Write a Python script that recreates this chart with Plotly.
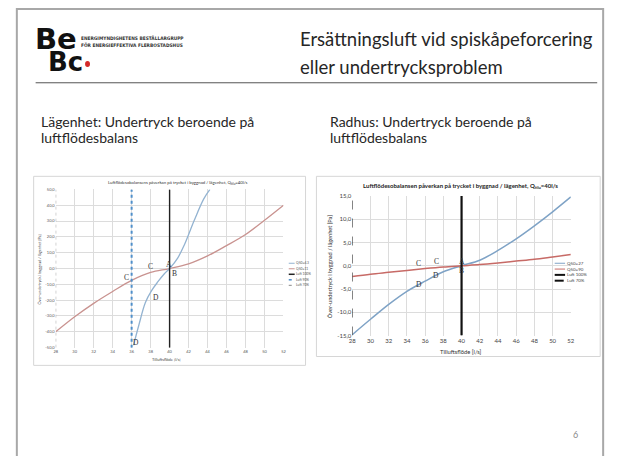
import plotly.graph_objects as go

W, H = 620, 456

# ---------------- data ----------------
# Lägenhet (left chart)
lag_x = [28, 30, 32, 34, 36, 38, 40, 42, 44, 46, 48, 50, 52]
lag_q50_11 = [-40, -30.5, -22, -14.5, -7.5, -2.5, 0, 3, 8, 14.5, 21.5, 30.5, 40]
lag_q50_43_x = [36.2, 36.75, 37.45, 38.1, 38.75, 39.45, 40, 40.85, 41.55, 42.6, 43.6, 44.25]
lag_q50_43_y = [-48.5, -36, -21.5, -14, -8.5, -3.3, 0, 6.6, 14.9, 30.5, 44, 50]
lag_luft = {"Luft 100%": 40, "Luft 90%": 36, "Luft 70%": 28}
lag_yticks = [-50, -40, -30, -20, -10, 0, 10, 20, 30, 40, 50]
lag_ytext = ["-50,0", "-40,0", "-30,0", "-20,0", "-10,0", "0,0", "10,0", "20,0", "30,0", "40,0", "50,0"]
lag_points = [("A", 39.9, 2.4), ("B", 40.5, -3.0), ("C", 38.0, 1.0), ("C", 35.5, -5.5),
              ("D", 38.6, -18), ("D", 36.5, -47)]

# Radhus (right chart)
rad_x = [28, 30, 32, 34, 36, 38, 40, 42, 44, 46, 48, 50, 52]
rad_q50_27 = [-14.8, -11.5, -8.3, -5.5, -3.3, -1.3, 0, 1.2, 3.3, 5.8, 8.6, 11.6, 14.8]
rad_q50_90 = [-2.3, -1.8, -1.4, -1.0, -0.6, -0.25, 0, 0.25, 0.6, 1.0, 1.4, 1.9, 2.4]
rad_luft = {"Luft 100%": 40, "Luft 70%": 28}
rad_yticks = [-15, -10, -5, 0, 5, 10, 15]
rad_ytext = ["-15,0", "-10,0", "-5,0", "0,0", "5,0", "10,0", "15,0"]
rad_points = [("C", 35.3, 0.4), ("C", 37.2, 0.9), ("A", 40.0, 0.9), ("B", 40.0, -1.0),
              ("D", 37.2, -2.2), ("D", 35.35, -4.1)]

x_ticks = [28, 30, 32, 34, 36, 38, 40, 42, 44, 46, 48, 50, 52]

# ---------------- colours ----------------
L_BLUE, L_RED = "#93b3d1", "#c99390"
R_BLUE, R_RED = "#7fa3c6", "#c76a66"
DASH_BLUE = "#4f8fca"
GRID = "#dcdcdc"
SANS = "Lato"
SERIF = "Liberation Serif"


def pxx(x):
    return x / W


def pyy(y):
    return 1 - y / H


fig = go.Figure()

# left chart traces
fig.add_trace(go.Scatter(x=lag_x, y=lag_q50_11, mode="lines", line=dict(color=L_RED, width=1.3, shape="spline"),
                         xaxis="x", yaxis="y", showlegend=False, name="Q50=11"))
fig.add_trace(go.Scatter(x=lag_q50_43_x, y=lag_q50_43_y, mode="lines", line=dict(color=L_BLUE, width=1.3, shape="spline"),
                         xaxis="x", yaxis="y", showlegend=False, name="Q50=4.3"))
fig.add_trace(go.Scatter(x=[lag_luft["Luft 100%"]] * 2, y=[-50, 50], mode="lines", line=dict(color="#222222", width=1.4),
                         xaxis="x", yaxis="y", showlegend=False, name="Luft 100%"))
fig.add_trace(go.Scatter(x=[lag_luft["Luft 90%"]] * 2, y=[-50, 50], mode="lines",
                         line=dict(color=DASH_BLUE, width=2, dash="dot"),
                         xaxis="x", yaxis="y", showlegend=False, name="Luft 90%"))
fig.add_trace(go.Scatter(x=[lag_luft["Luft 70%"]] * 2, y=[-50, 50], mode="lines",
                         line=dict(color="#9a9a9a", width=1, dash="dot"),
                         xaxis="x", yaxis="y", showlegend=False, name="Luft 70%"))

# right chart traces
fig.add_trace(go.Scatter(x=rad_x, y=rad_q50_27, mode="lines", line=dict(color=R_BLUE, width=1.5, shape="spline"),
                         xaxis="x2", yaxis="y2", showlegend=False, name="Q50=27"))
fig.add_trace(go.Scatter(x=rad_x, y=rad_q50_90, mode="lines", line=dict(color=R_RED, width=1.5, shape="spline"),
                         xaxis="x2", yaxis="y2", showlegend=False, name="Q50=90"))
fig.add_trace(go.Scatter(x=[rad_luft["Luft 100%"]] * 2, y=[-15, 15], mode="lines", line=dict(color="#111111", width=2.2),
                         xaxis="x2", yaxis="y2", showlegend=False, name="Luft 100%"))
fig.add_trace(go.Scatter(x=[rad_luft["Luft 70%"]] * 2, y=[-15, 15], mode="lines",
                         line=dict(color="#222222", width=1, dash="dash"),
                         xaxis="x2", yaxis="y2", showlegend=False, name="Luft 70%"))

axis_common = dict(showgrid=True, gridcolor=GRID, gridwidth=1, zeroline=False, showline=False,
                   ticks="", fixedrange=True)

fig.update_layout(
    width=W, height=H, margin=dict(l=0, r=0, t=0, b=0),
    paper_bgcolor="white", plot_bgcolor="white",
    xaxis=dict(domain=[pxx(53.3), pxx(283.7)], range=[28, 52], tickvals=x_ticks,
               tickfont=dict(size=4, color="#555", family=SANS), anchor="y", **axis_common),
    yaxis=dict(domain=[pyy(349), pyy(188.3)], range=[-50, 50], tickvals=lag_yticks, ticktext=lag_ytext,
               tickfont=dict(size=4, color="#555", family=SANS), anchor="x", **axis_common),
    xaxis2=dict(domain=[pxx(353.3), pxx(574.3)], range=[28, 52], tickvals=x_ticks,
                tickfont=dict(size=6, color="#444", family=SANS), anchor="y2", **axis_common),
    yaxis2=dict(domain=[pyy(336.7), pyy(195)], range=[-15, 15], tickvals=rad_yticks, ticktext=rad_ytext,
                tickfont=dict(size=6, color="#444", family=SANS), anchor="x2", **axis_common),
)

shapes = []
# slide frame
shapes.append(dict(type="rect", xref="paper", yref="paper", x0=pxx(14), x1=pxx(607), y0=pyy(470), y1=pyy(5),
                   line=dict(color="#a8a8a8", width=2), layer="below"))
# header rule
shapes.append(dict(type="line", xref="paper", yref="paper", x0=pxx(33), x1=pxx(601), y0=pyy(80), y1=pyy(80),
                   line=dict(color="#555555", width=1)))
# chart image frames
shapes.append(dict(type="rect", xref="paper", yref="paper", x0=pxx(31), x1=pxx(306), y0=pyy(367), y1=pyy(175),
                   line=dict(color="#d6d6d6", width=1), layer="below"))
shapes.append(dict(type="rect", xref="paper", yref="paper", x0=pxx(317), x1=pxx(604), y0=pyy(358), y1=pyy(175),
                   line=dict(color="#d6d6d6", width=1), layer="below"))
# logo red dot
shapes.append(dict(type="circle", xref="paper", yref="paper", x0=pxx(83), x1=pxx(88), y0=pyy(64), y1=pyy(58),
                   fillcolor="#d42a2a", line=dict(width=0)))

annotations = []


def txt(x, y, s, size, color="#222", family=SANS, xanchor="left", yanchor="middle", angle=0, **kw):
    annotations.append(dict(x=pxx(x), y=pyy(y), xref="paper", yref="paper", text=s, showarrow=False,
                            font=dict(size=size, color=color, family=family), xanchor=xanchor,
                            yanchor=yanchor, textangle=angle, borderpad=0, **kw))


# logo
txt(31, 36, "<b>Be</b>", 29, color="#111", family="DejaVu Sans")
txt(45, 59, "<b>Bc</b>", 26, color="#111", family="DejaVu Sans")
txt(78, 35, "<b>ENERGIMYNDIGHETENS BESTÄLLARGRUPP</b>", 4.8, color="#333", family="DejaVu Sans Condensed")
txt(78, 42, "<b>FÖR ENERGIEFFEKTIVA FLERBOSTADSHUS</b>", 4.8, color="#333", family="DejaVu Sans Condensed")

# slide title
txt(299, 36, "Ersättningsluft vid spiskåpeforcering", 18.5, color="#262626")
txt(299, 64, "eller undertrycksproblem", 18.5, color="#262626")

# subtitles
txt(37, 119, "Lägenhet: Undertryck beroende på", 14, color="#262626")
txt(37, 136, "luftflödesbalans", 14, color="#262626")
txt(330, 119, "Radhus: Undertryck beroende på", 14, color="#262626")
txt(330, 136, "luftflödesbalans", 14, color="#262626")

# page number
txt(579, 437, "6", 9, color="#8a8a8a", xanchor="center")

# left chart texts
txt(177, 182, "Luftflödesobalansens påverkan på trycket i byggnad / lägenhet, Q<sub>tilu</sub>=40l/s", 4.3,
    color="#333", xanchor="center")
txt(37, 270, "Över-undertryck i byggnad / lägenhet [Pa]", 3.8, color="#444", xanchor="center", angle=-90)
txt(165, 361, "Tilluftsflöde [l/s]", 4, color="#444", xanchor="center")

# right chart texts
txt(463, 185, "<b>Luftflödesobalansen påverkan på trycket i byggnad / lägenhet, Q<sub>tilu</sub>=40l/s</b>", 6,
    color="#222", xanchor="center")
txt(331, 267, "Över-undertryck i byggnad / lägenhet [Pa]", 5.6, color="#333", xanchor="center", angle=-90)
txt(463, 353, "Tilluftsflöde [l/s]", 5.8, color="#333", xanchor="center")

# legends (drawn as small line keys plus text)
lag_legend = [("Q50=4.3", L_BLUE, "solid", 1), ("Q50=11", L_RED, "solid", 1),
              ("Luft 100%", "#222", "solid", 1.5), ("Luft 90%", DASH_BLUE, "dot", 1.5),
              ("Luft 70%", "#888", "dot", 1)]
for i, (name, col, dash, wd) in enumerate(lag_legend):
    yy = 263.3 + i * 5.6
    shapes.append(dict(type="line", xref="paper", yref="paper", x0=pxx(289), x1=pxx(295), y0=pyy(yy), y1=pyy(yy),
                       line=dict(color=col, width=wd, dash=dash)))
    txt(295.3, yy, name, 3.3, color="#555")

rad_legend = [("Q50=27", R_BLUE, "solid", 1), ("Q50=90", R_RED, "solid", 1),
              ("Luft 100%", "#111", "solid", 2), ("Luft 70%", "#111", "dash", 2)]
for i, (name, col, dash, wd) in enumerate(rad_legend):
    yy = 263.3 + i * 5.9
    shapes.append(dict(type="line", xref="paper", yref="paper", x0=pxx(558), x1=pxx(568.5), y0=pyy(yy), y1=pyy(yy),
                       line=dict(color=col, width=wd, dash=dash)))
    txt(569, yy, name, 4.4, color="#444")

# point labels (A-D)
for s, x, y in lag_points:
    annotations.append(dict(x=x, y=y, xref="x", yref="y", text=s, showarrow=False,
                            font=dict(size=7.5, color="#333", family=SERIF)))
for s, x, y in rad_points:
    annotations.append(dict(x=x, y=y, xref="x2", yref="y2", text=s, showarrow=False,
                            font=dict(size=7.5, color="#333", family=SERIF)))

fig.update_layout(shapes=shapes, annotations=annotations)
fig.write_html("out.html", config={"displayModeBar": False},
               post_script="document.body.style.margin='0';document.body.style.overflow='hidden';")
